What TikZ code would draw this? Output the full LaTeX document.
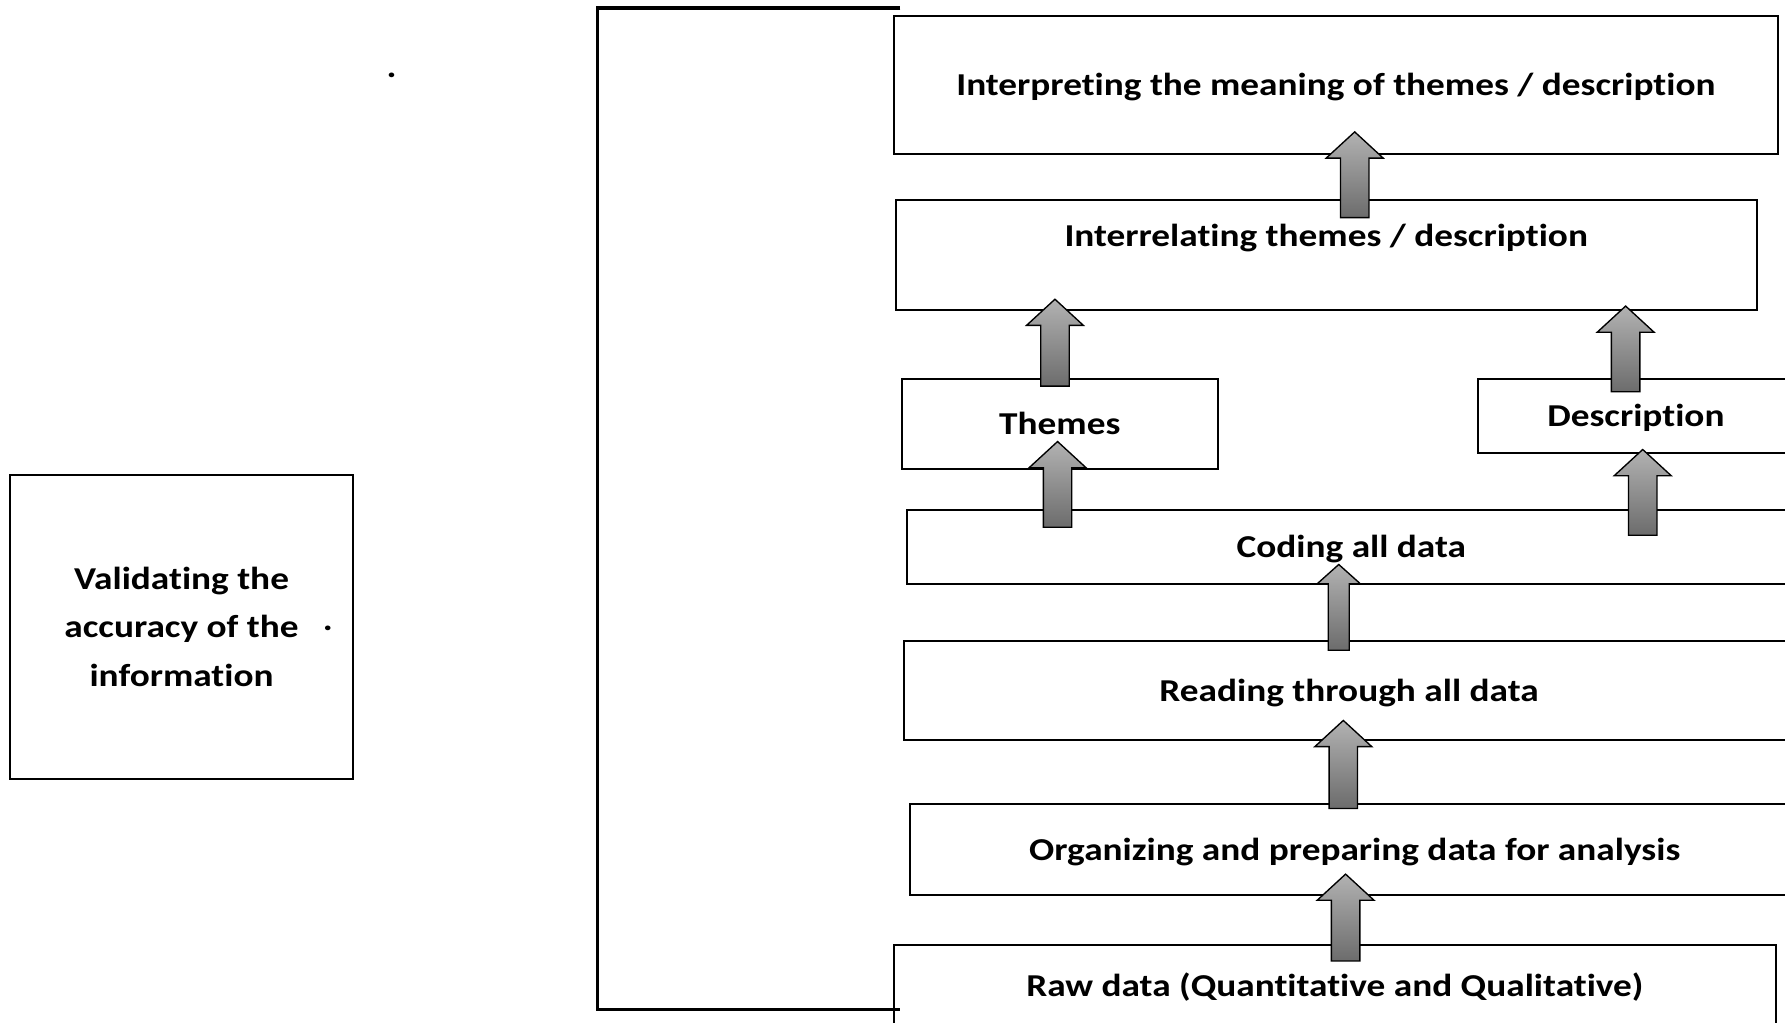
\documentclass[tikz,border=0pt]{standalone}
\usepackage{fontspec}
\setmainfont{Carlito}[FakeStretch=1.17, Ligatures=NoCommon]
\usetikzlibrary{calc,positioning}
\definecolor{arrtop}{RGB}{178,178,178}
\definecolor{arrbot}{RGB}{108,108,108}

\tikzset{
    stage/.style={draw, line width=1.7pt, inner sep=0pt, align=center,
        text height=20pt, text depth=1pt,
        font=\fontsize{28}{42.5}\selectfont\bfseries},
    dotmark/.style={inner sep=0pt, font=\fontsize{28}{30}\selectfont\bfseries},
    arrowshade/.style={draw, line width=1.2pt, line join=miter,
        top color=arrtop, bottom color=arrbot}
}
\newcommand{\shaft}{12.5pt}
\newcommand{\head}{25pt}
\newcommand{\headlen}{23pt}
% block arrow: x, from node, to node, dip into from, dip into to
\newcommand{\blockup}[5]{%
    \path[arrowshade] let \p1=(#1,0 |- #2.north), \p2=(#1,0 |- #3.south) in
        (\x1-\shaft,\y1-#4) -- (\x1-\shaft,\y2+#5-\headlen)
        -- (\x1-\head,\y2+#5-\headlen) -- (\x1,\y2+#5)
        -- (\x1+\head,\y2+#5-\headlen) -- (\x1+\shaft,\y2+#5-\headlen)
        -- (\x1+\shaft,\y1-#4) -- cycle;}

\begin{document}
\begin{tikzpicture}[x=1pt, y=-1pt]
\useasboundingbox (0,0) rectangle (1568,898);
\clip (0,0) rectangle (1568,898);

% stages
\node[stage, minimum width=777pt, minimum height=121pt] (interp) at (1173.5,74.5)
    {Interpreting the meaning of themes / description};
\node[stage, minimum width=756pt, minimum height=96pt, text depth=35pt] (interrel) at (1165,224)
    {Interrelating themes / description};
\node[stage, minimum width=278pt, minimum height=79pt] (themes) at (931,372.5) {Themes};
\node[stage, minimum width=278pt, minimum height=65pt] (descr) at (1437,365.5) {Description};
\node[stage, minimum width=780pt, minimum height=65pt] (coding) at (1187,480.5) {Coding all data};
\node[stage, minimum width=782pt, minimum height=87pt] (reading) at (1185,606.5) {Reading through all data};
\node[stage, minimum width=782pt, minimum height=80pt] (organ) at (1190,746)
    {Organizing and preparing data for analysis};
\node[stage, minimum width=775pt, minimum height=72pt] (raw) at (1172.5,866)
    {Raw data (Quantitative and Qualitative)};

% validation
\node[stage, minimum width=301pt, minimum height=267pt, text height=, text depth=] (valid) at (159.5,550.5)
    {Validating the\\accuracy of the\\information};
\node[dotmark, anchor=base] (dota) at (344,68) {.};
\node[dotmark, anchor=base] (dotb) at (288,554) {.};

% bracket
\coordinate (brtop) at (791,7);
\coordinate (brbot) at (791,887);
\draw[line width=2.8pt] (brtop) -- ++(-266,0) |- (brbot);

% arrows
\blockup{1190}{interrel}{interp}{16pt}{20pt}
\blockup{926.7}{themes}{interrel}{7pt}{10pt}
\blockup{1428}{descr}{interrel}{12pt}{4pt}
\blockup{929}{coding}{themes}{16pt}{25pt}
\blockup{1443}{coding}{descr}{23pt}{4pt}
{\renewcommand{\shaft}{9.2pt}\renewcommand{\head}{19pt}\renewcommand{\headlen}{17pt}%
\blockup{1176}{reading}{coding}{9pt}{18pt}}
\blockup{1180}{organ}{reading}{5pt}{18pt}
\blockup{1182}{raw}{organ}{15pt}{19pt}
\end{tikzpicture}
\end{document}
